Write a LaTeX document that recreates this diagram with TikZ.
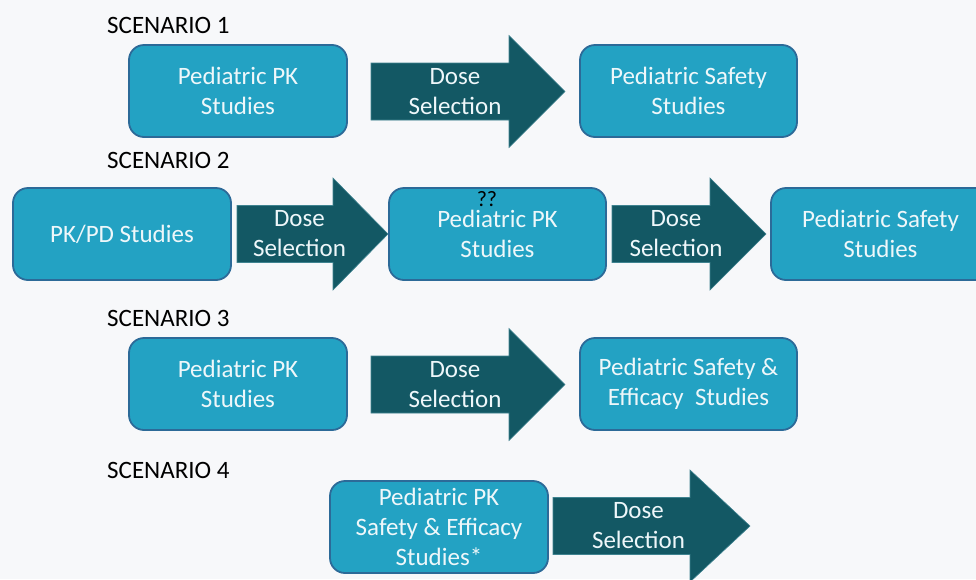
\documentclass[tikz,border=0pt]{standalone}
\usepackage{fontspec}
\setmainfont{Carlito}
\definecolor{bg}{HTML}{F7F8FA}
\definecolor{boxfill}{HTML}{23A2C3}
\definecolor{boxline}{HTML}{2C6A98}
\definecolor{boxtext}{HTML}{EEF7FA}
\definecolor{arrowfill}{HTML}{135864}
\definecolor{arrowedge}{HTML}{3F8390}
\begin{document}
\begin{tikzpicture}[x=1pt,y=-1pt,
  study/.style={draw=boxline, line width=1.8pt, fill=boxfill, rounded corners=15pt,
    text=boxtext, align=center, font=\fontsize{25}{30}\selectfont, inner sep=0pt,
    minimum width=218pt, minimum height=92pt},
  arrowbody/.style={fill=arrowfill, draw=arrowedge, line width=0.6pt},
  dosetext/.style={text=boxtext, align=center, font=\fontsize{25}{30}\selectfont, inner sep=0pt},
  scenario/.style={anchor=west, inner sep=0pt, font=\fontsize{25}{28}\selectfont, text=black}]

% block arrow: tail x, head base x, tip x, mid y, text node name
\newcommand\dosearrow[5]{%
  \filldraw[arrowbody] (#1,#4-28.5) -- (#2,#4-28.5) -- (#2,#4-56) -- (#3,#4)
    -- (#2,#4+56) -- (#2,#4+28.5) -- (#1,#4+28.5) -- cycle;
  \node[dosetext] (#5) at ({(#1+#3)/2-13},#4) {Dose\\Selection};}

\useasboundingbox (0,0) rectangle (976,579);
\clip (0,0) rectangle (976,579);
\fill[bg] (0,0) rectangle (976,579);

% Scenario 1
\node[scenario] (s1) at (107,25) {SCENARIO 1};
\node[study] (pk1) at (238,91) {Pediatric PK\\Studies};
\dosearrow{371}{509}{565}{91.5}{d1}
\node[study, minimum width=217pt] (saf1) at (688.5,91) {Pediatric Safety\\Studies};

% Scenario 2
\node[scenario] (s2) at (107,160) {SCENARIO 2};
\node[study] (pkpd) at (122,234) {PK/PD Studies};
\dosearrow{237}{333}{388}{234}{d2}
\node[study, minimum width=217pt] (pk2) at (497.5,234) {Pediatric PK\\Studies};
\node[font=\fontsize{22}{24}\selectfont, text=black, inner sep=0pt] (qq) at (487,199) {??};
\dosearrow{612}{710}{766}{234}{d3}
\node[study, minimum width=219pt] (saf2) at (880.5,234) {Pediatric Safety\\Studies};

% Scenario 3
\node[scenario] (s3) at (107,318) {SCENARIO 3};
\node[study] (pk3) at (238,384) {Pediatric PK\\Studies};
\dosearrow{371}{509}{565}{384.5}{d4}
\node[study, minimum width=217pt] (saf3) at (688.5,384) {Pediatric Safety \&\\Efficacy\ \ Studies};

% Scenario 4
\node[scenario] (s4) at (107,470) {SCENARIO 4};
\node[study] (pk4) at (439,527) {Pediatric PK\\Safety \& Efficacy\\Studies*};
\dosearrow{553}{690}{750}{526}{d5}
\end{tikzpicture}
\end{document}
